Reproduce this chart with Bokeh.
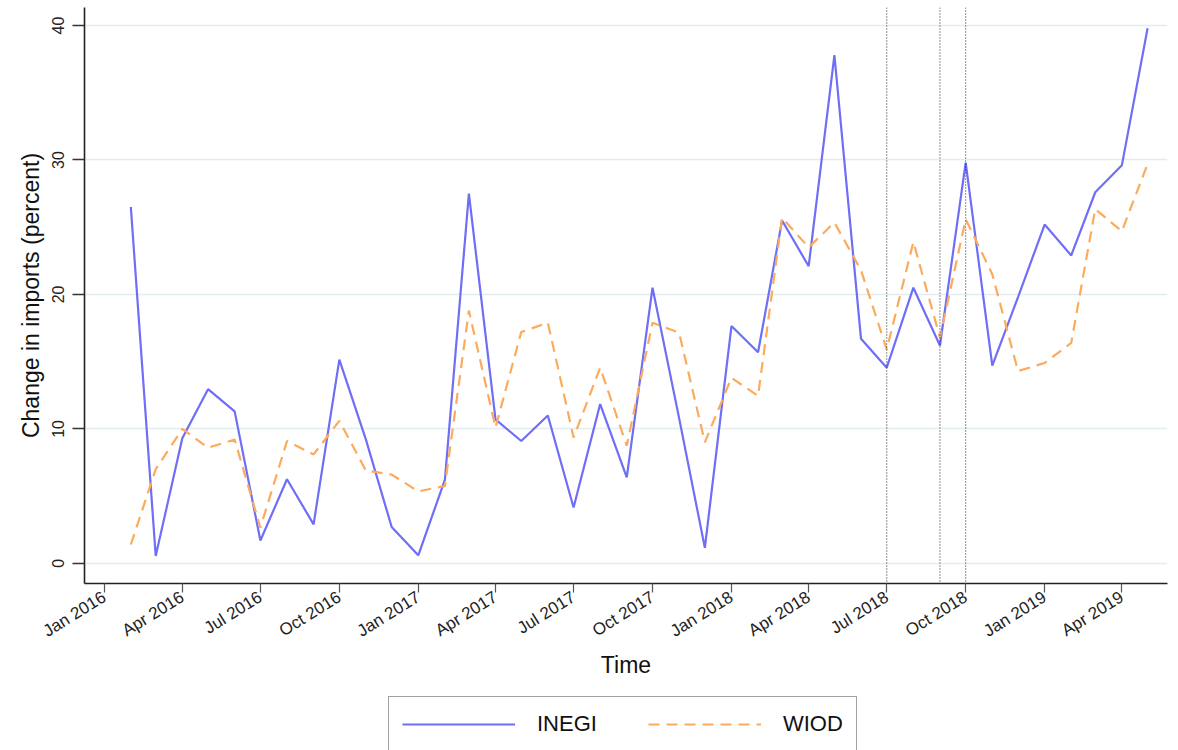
import math
import pandas as pd
from bokeh.plotting import figure
from bokeh.layouts import column
from bokeh.models import Range1d, FixedTicker, Span, Legend, LegendItem
from bokeh.embed import file_html
from bokeh.resources import INLINE

# ---- data -------------------------------------------------------------
months = [d.strftime("%Y-%m-%d") for d in pd.date_range("2016-02-01", "2019-05-01", freq="MS")]

inegi = [26.5, 0.55, 9.3, 12.95, 11.3, 1.7, 6.25, 2.9, 15.15, 9.2,
         2.7, 0.6, 6.2, 27.5, 10.7, 9.1, 11.0, 4.15, 11.85, 6.4,
         20.5, 10.8, 1.15, 17.65, 15.7, 25.5, 22.1, 37.8, 16.7, 14.55,
         20.5, 16.2, 29.8, 14.7, 19.8, 25.2, 22.9, 27.6, 29.6, 39.8]

wiod = [1.4, 7.0, 10.0, 8.6, 9.2, 2.65, 9.1, 8.1, 10.6, 6.9,
        6.6, 5.35, 5.75, 18.8, 10.1, 17.2, 17.9, 9.35, 14.55, 8.75,
        17.9, 17.15, 9.0, 13.8, 12.45, 25.7, 23.5, 25.35, 21.8, 15.9,
        23.9, 16.8, 25.6, 21.5, 14.3, 14.9, 16.4, 26.35, 24.7, 29.7]

tick_dates = ["2016-01-01", "2016-04-01", "2016-07-01", "2016-10-01",
              "2017-01-01", "2017-04-01", "2017-07-01", "2017-10-01",
              "2018-01-01", "2018-04-01", "2018-07-01", "2018-10-01",
              "2019-01-01", "2019-04-01"]
tick_labels = ["Jan 2016", "Apr 2016", "Jul 2016", "Oct 2016",
               "Jan 2017", "Apr 2017", "Jul 2017", "Oct 2017",
               "Jan 2018", "Apr 2018", "Jul 2018", "Oct 2018",
               "Jan 2019", "Apr 2019"]
y_ticks = [0, 10, 20, 30, 40]
event_dates = ["2018-07-01", "2018-09-01", "2018-10-01"]
series_names = ["INEGI", "WIOD"]

# ---- helpers ------------------------------------------------------------
def ms(s):
    return pd.Timestamp(s).value / 1e6

DAY = 86400000.0
x = [pd.Timestamp(m) for m in months]

FONT = "Liberation Sans"
BLUE = "#6e6ef7"
ORANGE = "#fcaa5c"
DASH = "11 7"

p = figure(width=1178, height=680, x_axis_type="datetime",
           output_backend="svg", toolbar_location=None,
           min_border_left=84, min_border_right=11,
           min_border_top=7, min_border_bottom=96)

p.x_range = Range1d(ms("2016-01-01") - 23 * DAY, ms("2016-01-01") + 1239.2 * DAY)
p.y_range = Range1d(-1.50, 41.34)

p.outline_line_color = None
p.background_fill_color = "white"
p.border_fill_color = "white"

# grid
p.xgrid.grid_line_color = None
p.ygrid.grid_line_color = "#e3edef"
p.ygrid.grid_line_width = 1.6
p.ygrid.ticker = FixedTicker(ticks=y_ticks)

# x axis
tick_ms = [ms(t) for t in tick_dates]
p.xaxis.ticker = FixedTicker(ticks=tick_ms)
p.xaxis.major_label_overrides = {t: l for t, l in zip(tick_ms, tick_labels)}
p.xaxis.major_label_orientation = 32 * math.pi / 180
p.xaxis.major_label_text_font = FONT
p.xaxis.major_label_text_font_size = "17px"
p.xaxis.major_label_text_color = "#222222"
p.xaxis.major_label_standoff = 3
p.xaxis.major_tick_out = 9
p.xaxis.major_tick_in = 0
p.xaxis.major_tick_line_color = "#555555"
p.xaxis.major_tick_line_width = 1.2
p.xaxis.minor_tick_line_color = None
p.xaxis.axis_line_color = "#222222"
p.xaxis.axis_line_width = 1.6
p.xaxis.axis_label = "Time"
p.xaxis.axis_label_text_font = FONT
p.xaxis.axis_label_text_font_size = "23px"
p.xaxis.axis_label_text_font_style = "normal"
p.xaxis.axis_label_text_color = "#111111"
p.xaxis.axis_label_standoff = 0

# y axis
p.yaxis.ticker = FixedTicker(ticks=y_ticks)
p.yaxis.major_label_orientation = "vertical"
p.yaxis.major_label_text_font = FONT
p.yaxis.major_label_text_font_size = "16px"
p.yaxis.major_label_text_color = "#222222"
p.yaxis.major_label_standoff = 8
p.yaxis.major_tick_out = 12
p.yaxis.major_tick_in = 0
p.yaxis.major_tick_line_color = "#333333"
p.yaxis.major_tick_line_width = 1.4
p.yaxis.minor_tick_line_color = None
p.yaxis.axis_line_color = "#222222"
p.yaxis.axis_line_width = 1.6
p.yaxis.axis_label = "Change in imports (percent)"
p.yaxis.axis_label_text_font = FONT
p.yaxis.axis_label_text_font_size = "23px"
p.yaxis.axis_label_text_font_style = "normal"
p.yaxis.axis_label_text_color = "#111111"
p.yaxis.axis_label_standoff = 6

# event lines
for d in event_dates:
    p.add_layout(Span(location=ms(d), dimension="height", line_color="#1e1e1e",
                      line_width=1, line_dash="1 2"))

# series
p.line(x, inegi, line_color=BLUE, line_width=2.2)
p.line(x, wiod, line_color=ORANGE, line_width=2.2, line_dash=DASH)

# ---- legend strip (separate figure below the chart) -----------------------
# Same series drawn again, but outside this strip's visible range, so only the
# legend (which mirrors their styles) shows.
lf = figure(width=1178, height=70, output_backend="svg", toolbar_location=None,
            x_axis_type="datetime",
            min_border=0, x_axis_location=None, y_axis_location=None,
            x_range=Range1d(0, 1), y_range=Range1d(-1000, -999))
lf.outline_line_color = None
lf.xgrid.visible = False
lf.ygrid.visible = False
l1 = lf.line(x, inegi, line_color=BLUE, line_width=2.2)
l2 = lf.line(x, wiod, line_color=ORANGE, line_width=2.2, line_dash=DASH)

legend = Legend(items=[LegendItem(label=series_names[0], renderers=[l1]),
                       LegendItem(label=series_names[1], renderers=[l2])],
                orientation="horizontal",
                location=(304, -2),
                glyph_width=113, glyph_height=28,
                label_height=28, label_standoff=22, spacing=51,
                padding=13, margin=0,
                label_text_font=FONT, label_text_font_size="22px",
                label_text_color="#111111",
                border_line_color="#444444", border_line_width=1,
                background_fill_color="white", background_fill_alpha=1)
lf.add_layout(legend, "center")

layout = column(p, lf, spacing=0)
open("out.html", "w").write(file_html(layout, INLINE))
